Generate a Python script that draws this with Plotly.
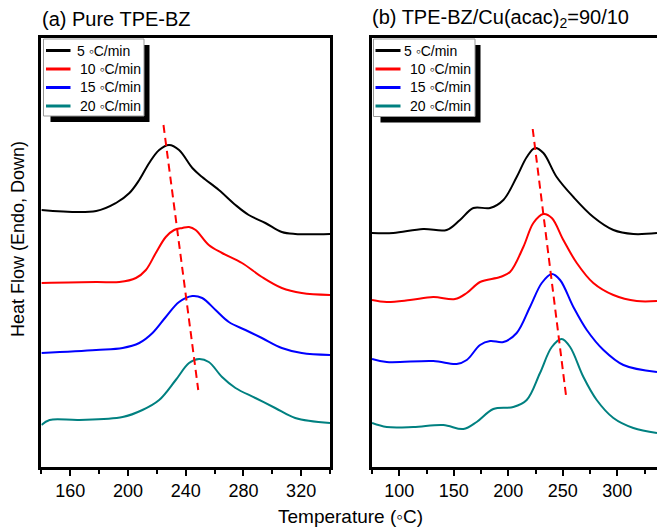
import plotly.graph_objects as go

W, H = 657, 527

# ---------------- data (heat flow in arbitrary units, offset curves) ----------------
rates = ["5 \u25e6C/min", "10 \u25e6C/min", "15 \u25e6C/min", "20 \u25e6C/min"]
colors = ["#000000", "#ff0000", "#0000ff", "#008080"]

# (a) Pure TPE-BZ
T_a_5 = [140, 178, 191.7, 201, 207.8, 214.7, 221.6, 228.5, 235.4, 244.6, 251.4, 263, 274.5, 283.7, 295.2, 306.6, 315.9, 340]
H_a_5 = [257, 256, 264, 274, 287, 304, 317, 322, 317, 299, 290, 277, 262, 252, 244, 235, 233, 233]
T_a_10 = [140, 178, 194, 205.5, 212.4, 219.3, 226.2, 232, 237.7, 242.3, 246.9, 256, 265.2, 279, 292.8, 306.6, 320.4, 340]
H_a_10 = [184, 185, 185, 189, 197, 214, 230, 237, 239, 240, 237, 222, 214, 204, 190, 179, 174, 172]
T_a_15 = [140, 178, 196.3, 207.8, 217, 226.2, 235.4, 244.6, 251.4, 260.7, 269.9, 281.4, 292.8, 306.6, 320.4, 340]
H_a_15 = [114, 117, 119, 124, 134, 150, 165, 171, 169, 157, 145, 137, 129, 119, 114, 112]
T_a_20 = [140, 145.7, 166.4, 196.3, 210, 221.6, 233.1, 242.3, 249.2, 256, 265.2, 274.5, 288.3, 302, 315.9, 340]
H_a_20 = [42, 47, 47, 50, 57, 67, 87, 104, 108, 105, 90, 79, 69, 59, 49, 44]
T_a_peakline = [224.6, 248.7]
H_a_peakline = [342, 77]

# (b) TPE-BZ/Cu(acac)2 = 90/10
T_b_5 = [75, 94.5, 122, 143.5, 155.7, 168, 183.3, 195.5, 207.7, 217, 224.5, 232.2, 244.4, 259.7, 278, 296.4, 314.7, 336.4]
H_b_5 = [234, 234, 238, 237, 247, 259, 259, 267, 290, 310, 319, 314, 290, 270, 250, 237, 233, 234]
T_b_10 = [75, 88.5, 109.9, 131.2, 151.1, 161.9, 174.1, 192.4, 201.6, 213.8, 223, 232.2, 239.9, 250.5, 262.8, 278, 296.4, 317.8, 336.4]
H_b_10 = [167, 165, 167, 170, 168, 174, 185, 190, 195, 220, 244, 253, 249, 227, 204, 184, 172, 166, 166]
T_b_15 = [75, 88.5, 131.2, 152.7, 161.9, 174.1, 183.3, 195.5, 207.7, 219.9, 230.7, 239.9, 247.5, 259.7, 272, 287.3, 305.6, 336.4]
H_b_15 = [108, 105, 106, 103, 107, 122, 126, 125, 134, 160, 184, 193, 187, 160, 137, 117, 102, 95]
T_b_20 = [75, 88.5, 112.9, 140.4, 158.8, 171, 186.3, 204.6, 216.9, 229.1, 239.9, 249, 256.7, 268.9, 281.1, 296.4, 314.7, 336.4]
H_b_20 = [44, 40, 40, 42, 38, 45, 58, 60, 67, 94, 120, 128, 120, 90, 67, 49, 39, 34]
T_b_peakline = [222.4, 253]
H_b_peakline = [338, 71]

# axis settings
xa_range = [140, 340]
xa_ticks = [160, 200, 240, 280, 320]
xa_minor = [140, 180, 220, 260, 300, 340]
xb_range = [75, 336.4]
xb_ticks = [100, 150, 200, 250, 300]
xb_minor = [75, 125, 175, 225, 275, 325]
y_range = [0, 429.5]

FONT = "Liberation Sans, Arial, sans-serif"

# ---------------- figure ----------------
def px(v):
    return v / W

def py(v):
    return 1 - v / H

fig = go.Figure()

series_a = [(T_a_5, H_a_5), (T_a_10, H_a_10), (T_a_15, H_a_15), (T_a_20, H_a_20)]
series_b = [(T_b_5, H_b_5), (T_b_10, H_b_10), (T_b_15, H_b_15), (T_b_20, H_b_20)]

for (x, y), name, c in zip(series_a, rates, colors):
    fig.add_trace(go.Scatter(x=x, y=y, name=name, mode="lines", showlegend=False,
                             line=dict(color=c, width=2, shape="spline", smoothing=1.0),
                             xaxis="x", yaxis="y"))
fig.add_trace(go.Scatter(x=T_a_peakline, y=H_a_peakline, mode="lines", showlegend=False,
                         line=dict(color="#ff0000", width=2, dash="8px,5px"),
                         xaxis="x", yaxis="y"))

for (x, y), name, c in zip(series_b, rates, colors):
    fig.add_trace(go.Scatter(x=x, y=y, name=name, mode="lines", showlegend=False,
                             line=dict(color=c, width=2, shape="spline", smoothing=1.0),
                             xaxis="x2", yaxis="y2"))
fig.add_trace(go.Scatter(x=T_b_peakline, y=H_b_peakline, mode="lines", showlegend=False,
                         line=dict(color="#ff0000", width=2, dash="8px,5px"),
                         xaxis="x2", yaxis="y2"))

ydom = [py(467), py(37.5)]
font_tick = dict(family=FONT, size=18, color="black")

common_x = dict(showgrid=False, zeroline=False, showline=True, linecolor="black", linewidth=2.5,
                ticks="outside", ticklen=6, tickwidth=2, tickcolor="black", tickfont=font_tick)

fig.update_layout(
    width=W, height=H,
    margin=dict(l=0, r=0, t=0, b=0),
    paper_bgcolor="white", plot_bgcolor="white",
    font=dict(family=FONT, color="black"),
    showlegend=False,
    xaxis=dict(domain=[px(41.4), px(330)], range=xa_range, tickvals=xa_ticks, mirror=True,
               minor=dict(ticks="outside", ticklen=4, tickwidth=2, tickcolor="black",
                          tickvals=xa_minor),
               anchor="y", **common_x),
    yaxis=dict(domain=ydom, range=y_range, showticklabels=False, ticks="", showgrid=False,
               zeroline=False, showline=True, linecolor="black", linewidth=2.5, mirror=True,
               anchor="x"),
    xaxis2=dict(domain=[px(372), 1], range=xb_range, tickvals=xb_ticks, mirror=True,
                minor=dict(ticks="outside", ticklen=4, tickwidth=2, tickcolor="black",
                           tickvals=xb_minor),
                anchor="y2", **common_x),
    yaxis2=dict(domain=ydom, range=y_range, showticklabels=False, ticks="", showgrid=False,
                zeroline=False, showline=True, linecolor="black", linewidth=2.5, mirror=False,
                anchor="x2"),
)

# ---------------- legends (boxed, with drop shadow) ----------------
def add_legend(box_l, box_r, box_t, box_b, line_x0, line_x1, text_x, row_y):
    fig.add_shape(type="rect", xref="paper", yref="paper",
                  x0=px(box_l + 7), x1=px(box_r + 5.5), y0=py(box_b + 6), y1=py(box_t + 6),
                  fillcolor="black", line=dict(width=0), layer="above")
    fig.add_shape(type="rect", xref="paper", yref="paper",
                  x0=px(box_l), x1=px(box_r), y0=py(box_b), y1=py(box_t),
                  fillcolor="white", line=dict(color="#999999", width=1), layer="above")
    for name, c, ry, tx in zip(rates, colors, row_y, text_x):
        fig.add_shape(type="line", xref="paper", yref="paper",
                      x0=px(line_x0), x1=px(line_x1), y0=py(ry), y1=py(ry),
                      line=dict(color=c, width=3), layer="above")
        fig.add_annotation(text=name, xref="paper", yref="paper", x=px(tx), y=py(ry),
                           xanchor="left", yanchor="middle", showarrow=False,
                           font=dict(size=14, family=FONT, color="black"))

rows = [50.5, 69, 87.5, 106]
add_legend(43.5, 144, 39, 116, 46, 70.5, [75, 78, 78, 78], rows)
add_legend(373.5, 475, 39, 116.5, 375.5, 400.5, [401.5, 408, 408, 408], rows)

# titles and axis labels
fig.add_annotation(text="(a) Pure TPE-BZ", xref="paper", yref="paper", x=px(40), y=py(19),
                   xanchor="left", yanchor="middle", showarrow=False, font=dict(size=20))
fig.add_annotation(text="(b) TPE-BZ/Cu(acac)<sub>2</sub>=90/10", xref="paper", yref="paper",
                   x=px(370), y=py(19), xanchor="left", yanchor="middle", showarrow=False,
                   font=dict(size=20))
fig.add_annotation(text="Temperature (\u25e6C)", xref="paper", yref="paper", x=px(350), y=py(516),
                   xanchor="center", yanchor="middle", showarrow=False, font=dict(size=19))
fig.add_annotation(text="Heat Flow (Endo, Down)", xref="paper", yref="paper", x=px(18), y=py(239),
                   xanchor="center", yanchor="middle", showarrow=False, textangle=-90,
                   font=dict(size=18))

fig.write_html("out.html")
